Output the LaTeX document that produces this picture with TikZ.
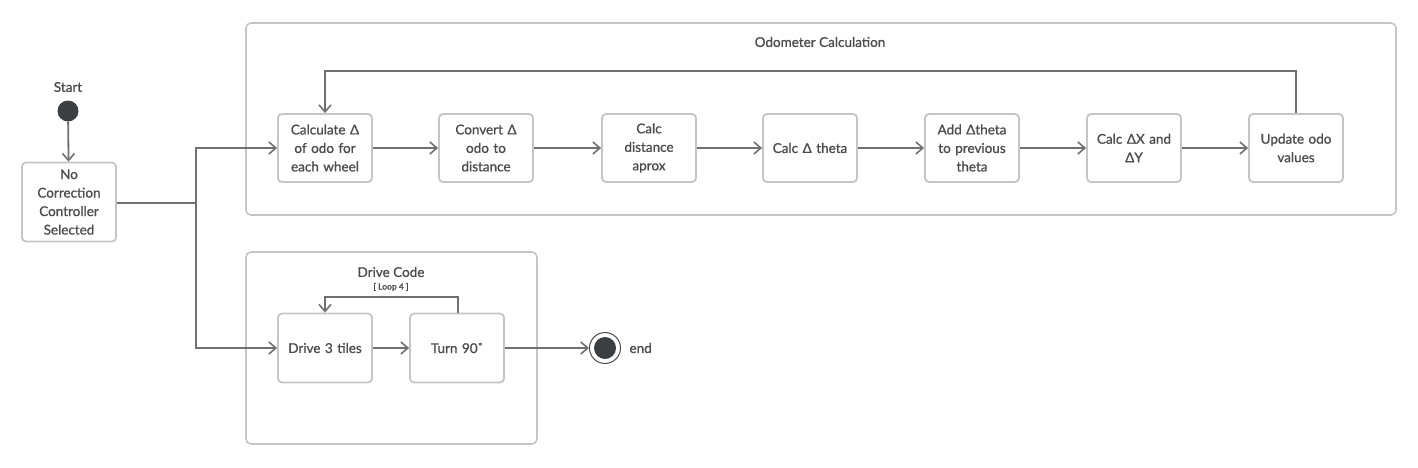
\documentclass[tikz,border=0pt]{standalone}
\usepackage{fontspec}
\setmainfont{Lato}[UprightFeatures={FakeBold=1.0}]
\usetikzlibrary{arrows.meta}
\definecolor{txt}{HTML}{4A4C4E}
\definecolor{bord}{HTML}{C3C6C8}
\definecolor{edge}{HTML}{6E7072}
\definecolor{dot}{HTML}{3C3F42}
\begin{document}
\begin{tikzpicture}[x=1pt,y=-1pt,
  every node/.style={text=txt,font=\fontsize{13.5}{18.5}\selectfont},
  actbox/.style={draw=bord,line width=1.8pt,rounded corners=4pt,minimum width=94pt,minimum height=68pt,align=center,inner sep=2pt,text width=90pt},
  frame/.style={draw=bord,line width=1.6pt,rounded corners=5pt},
  conn/.style={draw=edge,line width=1.8pt,-{Straight Barb[length=7pt,width=12pt,line width=1.6pt]}},
  plain/.style={draw=edge,line width=1.8pt}]
\useasboundingbox (0,0) rectangle (1418,467);
% frames
\draw[frame] (246,23) rectangle (1396,215);
\node at (820,42) {Odometer Calculation};
\draw[frame] (246,252) rectangle (537,444);
\node at (391,272) {Drive Code};
\node[font=\fontsize{8.5}{10}\selectfont] at (391,287) {[ Loop 4 ]};
% start
\node (startlbl) at (68,87) {Start};
\node[circle,fill=dot,minimum size=21pt,inner sep=0pt] (start) at (68,111) {};
\node[actbox,minimum width=94pt,minimum height=79pt] (nc) at (69,202) {No\\Correction\\Controller\\Selected};
% odometer row
\node[actbox] (c1) at (325,148) {Calculate Δ\\of odo for\\each wheel};
\node[actbox] (c2) at (486,148) {Convert Δ\\odo to\\distance};
\node[actbox] (c3) at (649,148) {Calc\\distance\\aprox};
\node[actbox] (c4) at (810,148) {Calc Δ theta};
\node[actbox] (c5) at (972,148) {Add Δtheta\\to previous\\theta};
\node[actbox] (c6) at (1134,148) {Calc ΔX and\\ΔY};
\node[actbox] (c7) at (1296,148) {Update odo\\values};
% drive row
\node[actbox,minimum height=69pt] (d1) at (325,348) {Drive 3 tiles};
\node[actbox,minimum height=69pt] (d2) at (457,348) {Turn 90˚};
% end
\node[circle,draw=txt,line width=1pt,minimum size=31pt,inner sep=0pt] (end) at (605,348) {};
\node[circle,fill=dot,minimum size=22pt,inner sep=0pt] at (end.center) {};
\node[anchor=west] (endlbl) at (626,348) {end};
% connectors
\coordinate (j) at (196,203);
\draw[conn] (start) -- (nc);
\draw[plain] (nc.east |- j) -- (j);
\draw[conn] (j) |- (c1.west);
\draw[conn] (j) |- (d1.west);
\draw[conn] (c1) -- (c2);
\draw[conn] (c2) -- (c3);
\draw[conn] (c3) -- (c4);
\draw[conn] (c4) -- (c5);
\draw[conn] (c5) -- (c6);
\draw[conn] (c6) -- (c7);
\coordinate (lt) at (1296,71);
\draw[conn] (c7.north) -- (lt) -| (c1.north);
\draw[conn] (d1) -- (d2);
\coordinate (lt2) at (458,297);
\draw[conn] (d2.north -| lt2) -- (lt2) -| (d1.north);
\draw[conn] (d2) -- (end);
\end{tikzpicture}
\end{document}
